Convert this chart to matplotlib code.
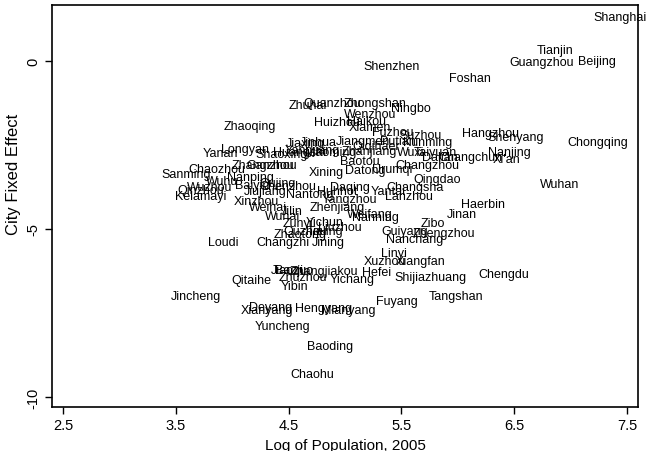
import matplotlib
matplotlib.use('agg')
import matplotlib.pyplot as plt

plt.rcParams['font.family'] = ['Liberation Sans', 'DejaVu Sans']

# city labels, log population (x) and city fixed effect (y)
cities = [
    'Shanghai', 'Tianjin', 'Guangzhou', 'Beijing', 'Shenzhen', 'Foshan',
    'Zhuhai', 'Quanzhou', 'Zhongshan', 'Ningbo', 'Wenzhou', 'Huizhou',
    'Haikou', 'Xiamen', 'Fuzhou', 'Suzhou', 'Kunming', 'Putian', 'Jiangmen',
    'Hangzhou', 'Shenyang', 'Chongqing', 'Nanjing', "Xi'an", 'Changchun',
    'Dalian', 'Taiyuan', 'Wuxi', 'Zhanjiang', 'Qiqihaer', 'Changzhou',
    'Urumqi', 'Baotou', 'Datong', 'Xining', 'Qingdao', 'Changsha', 'Lanzhou',
    'Yantai', 'Daqing', 'Huhhot', 'Nantong', 'Yangzhou', 'Zhenjiang',
    'Weifang', 'Nanning', 'Haerbin', 'Jinan', 'Wuhan', 'Zibo', 'Zhengzhou',
    'Guiyang', 'Nanchang', 'Linyi', 'Xuzhou', 'Xiangfan', 'Hefei', 'Yichang',
    'Zhangjiakou', 'Shijiazhuang', 'Chengdu', 'Tangshan', 'Fuyang',
    'Mianyang', 'Hengyang', 'Deyang', 'Xianyang', 'Yuncheng', 'Baoding',
    'Chaohu', 'Jincheng', 'Qitaihe', 'Yibin', 'Zhuzhou', 'Baoji', 'Jiaozuo',
    'Loudi', 'Changzhi', 'Jining', 'Zunyi', 'Yichun', 'Liuzhou', 'Quzhou',
    'Zhaotong', 'Tieling', 'Weihai', 'Jilin', 'Wuhai', 'Xinzhou', 'Kelamayi',
    'Qinzhou', 'Wuzhou', 'Wuhu', 'Baiyin', 'Jiujiang', 'Qujing', 'Chenzhou',
    'Chaozhou', 'Sanming', 'Zhangzhou', 'Ganzhou', 'Nanping', 'Zhaoqing',
    'Longyan', 'Yanan', 'Shaoxing', 'Jiaxing', 'Jinhua', 'Yangjiang',
    'Maoming', 'Huangshi',
]
log_pop = [
    7.44, 6.86, 6.74, 7.23, 5.41, 6.11,
    4.67, 4.89, 5.27, 5.58, 5.22, 4.93,
    5.19, 5.22, 5.42, 5.67, 5.73, 5.47, 5.16,
    6.29, 6.51, 7.24, 6.46, 6.43, 6.11,
    5.84, 5.80, 5.58, 5.22, 5.28, 5.73,
    5.42, 5.13, 5.18, 4.83, 5.82, 5.62, 5.57,
    5.38, 5.04, 4.93, 4.69, 5.04, 4.93,
    5.22, 5.27, 6.22, 6.04, 6.90, 5.78, 5.88,
    5.53, 5.62, 5.43, 5.35, 5.67, 5.28, 5.06,
    4.81, 5.76, 6.41, 5.98, 5.46,
    5.03, 4.81, 4.34, 4.31, 4.45, 4.87,
    4.71, 3.68, 4.17, 4.55, 4.63, 4.50, 4.53,
    3.92, 4.45, 4.85, 4.58, 4.82, 4.95, 4.65,
    4.60, 4.82, 4.32, 4.53, 4.45, 4.21, 3.72,
    3.72, 3.80, 3.91, 4.18, 4.29, 4.40, 4.49,
    3.86, 3.59, 4.27, 4.35, 4.16, 4.16,
    4.11, 3.90, 4.44, 4.65, 4.76, 4.71,
    4.87, 4.60,
]
fixed_effect = [
    1.31, 0.33, -0.03, 0.00, -0.15, -0.51,
    -1.31, -1.25, -1.25, -1.40, -1.58, -1.82,
    -1.79, -1.96, -2.11, -2.20, -2.41, -2.38, -2.38,
    -2.14, -2.26, -2.41, -2.71, -2.92, -2.86,
    -2.86, -2.71, -2.71, -2.68, -2.53, -3.10,
    -3.21, -2.98, -3.24, -3.30, -3.51, -3.75, -4.02,
    -3.87, -3.75, -3.87, -3.96, -4.11, -4.35,
    -4.55, -4.64, -4.26, -4.55, -3.66, -4.82, -5.12,
    -5.06, -5.30, -5.71, -5.95, -5.95, -6.28, -6.49,
    -6.25, -6.43, -6.34, -6.99, -7.14,
    -7.41, -7.35, -7.32, -7.41, -7.89, -8.48,
    -9.32, -6.99, -6.52, -6.70, -6.43, -6.22, -6.22,
    -5.39, -5.39, -5.39, -4.82, -4.79, -4.94, -5.06,
    -5.15, -5.06, -4.35, -4.46, -4.61, -4.17, -4.02,
    -3.84, -3.75, -3.57, -3.69, -3.87, -3.63, -3.72,
    -3.21, -3.36, -3.10, -3.10, -3.45, -1.93,
    -2.62, -2.74, -2.77, -2.44, -2.41, -2.65,
    -2.71, -2.71,
]

x_ticks = [2.5, 3.5, 4.5, 5.5, 6.5, 7.5]
y_ticks = [0, -5, -10]

fig = plt.figure(figsize=(6.48, 4.52), dpi=100)
ax = fig.add_axes([0.0802, 0.0973, 0.9044, 0.8894])

for name, x, y in zip(cities, log_pop, fixed_effect):
    ax.text(x, y, name, ha='center', va='center', fontsize=9,
            color='black', clip_on=False)

ax.set_xlim(2.402, 7.598)
ax.set_ylim(-10.30, 1.667)
ax.set_xticks(x_ticks)
ax.set_xticklabels([str(t) for t in x_ticks])
ax.set_yticks(y_ticks)
ax.set_yticklabels([str(t) for t in y_ticks], rotation=90, va='center')
ax.tick_params(direction='out', length=5, width=1.0, labelsize=10.5, pad=3)
for s in ax.spines.values():
    s.set_linewidth(1.2)

ax.set_xlabel('Log of Population, 2005', fontsize=11, labelpad=4)
ax.set_ylabel('City Fixed Effect', fontsize=12)
# title sits a bit above the middle of the axis in the original
ax.yaxis.set_label_coords(-0.052, 0.58)

fig.savefig('out.png', dpi=100)
